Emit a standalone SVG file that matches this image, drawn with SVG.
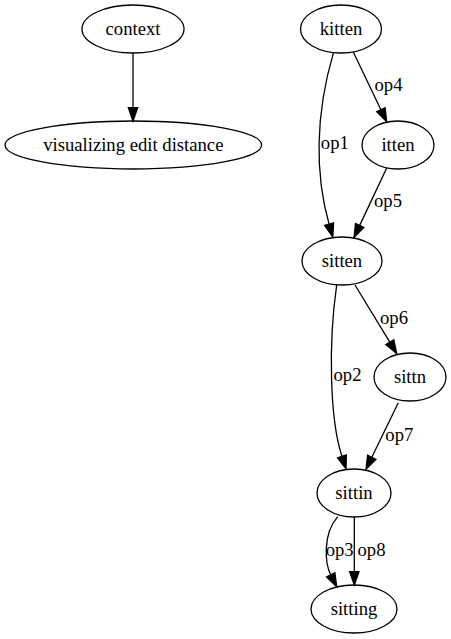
<svg xmlns="http://www.w3.org/2000/svg" width="451" height="639" viewBox="0 0 451 639">
<style>
.node ellipse{fill:none;stroke:#000;stroke-width:1.3}
.node text{font-family:"Liberation Serif","Times New Roman",serif;font-size:18.67px;text-anchor:middle;fill:#000}
.edges path{fill:none;stroke:#000;stroke-width:1.3}
.edges text{font-family:"Liberation Serif","Times New Roman",serif;font-size:18.67px;text-anchor:middle;fill:#000}
</style>
<defs>
<marker id="arr" markerUnits="userSpaceOnUse" viewBox="0 0 13.33 9.33" markerWidth="13.33" markerHeight="9.33" refX="0" refY="4.67" orient="auto" overflow="visible">
<path d="M0,0 L13.33,4.67 L0,9.33 Z" fill="#000" stroke="#000" stroke-width="1.3"/>
</marker>
</defs>
<rect width="451" height="639" fill="#fff"/>
<g class="edges">
<path d="M133,53 L133,107.7" marker-end="url(#arr)"/>
<path d="M333.5,52.6 C315,115 315,175 329.1,224.2" marker-end="url(#arr)"/>
<text x="334.8" y="149">op1</text>
<path d="M353.3,52 L380.9,109.7" marker-end="url(#arr)"/>
<text x="388.5" y="91">op4</text>
<path d="M386.7,168 L359.7,225.4" marker-end="url(#arr)"/>
<text x="388" y="207">op5</text>
<path d="M336.7,285 C328,345 330,420 341.9,456.3" marker-end="url(#arr)"/>
<text x="347.5" y="381">op2</text>
<path d="M355,285 L389.8,342.1" marker-end="url(#arr)"/>
<text x="394" y="324">op6</text>
<path d="M398.3,402.7 L371.8,457.3" marker-end="url(#arr)"/>
<text x="399.3" y="441">op7</text>
<path d="M337.7,516.7 C322,535 325.3,564.1 330.7,574.8" marker-end="url(#arr)"/>
<text x="339.7" y="556">op3</text>
<path d="M354.3,517 L354.3,571.7" marker-end="url(#arr)"/>
<text x="371.5" y="556">op8</text>
</g>
<g id="context" class="node"><ellipse cx="133" cy="29" rx="51" ry="24"/><text x="133" y="34.6">context</text></g>
<g id="vis" class="node"><ellipse cx="133.3" cy="145" rx="128.3" ry="24"/><text x="133.3" y="150.6">visualizing edit distance</text></g>
<g id="kitten" class="node"><ellipse cx="341" cy="29" rx="40.5" ry="24"/><text x="341" y="34.6">kitten</text></g>
<g id="itten" class="node"><ellipse cx="398" cy="145" rx="36" ry="24"/><text x="398" y="150.6">itten</text></g>
<g id="sitten" class="node"><ellipse cx="342" cy="261" rx="40" ry="24"/><text x="342" y="266.6">sitten</text></g>
<g id="sittn" class="node"><ellipse cx="410" cy="377" rx="36" ry="24"/><text x="410" y="382.6">sittn</text></g>
<g id="sittin" class="node"><ellipse cx="354" cy="493" rx="37" ry="24"/><text x="354" y="498.6">sittin</text></g>
<g id="sitting" class="node"><ellipse cx="354" cy="609" rx="43" ry="24"/><text x="354" y="614.6">sitting</text></g>
</svg>
